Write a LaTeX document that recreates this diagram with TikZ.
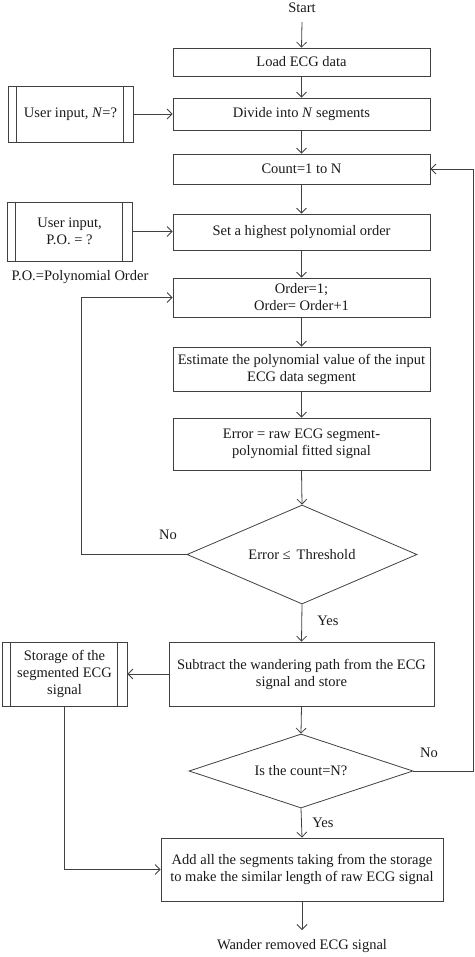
\documentclass[tikz,border=0pt]{standalone}
\usepackage{fontspec}
\setmainfont{Liberation Serif}
\usetikzlibrary{arrows.meta,shapes.geometric,calc}
\begin{document}
\begin{tikzpicture}[x=1pt,y=-1pt,
  line width=0.8pt,
  every node/.style={font=\fontsize{14.5}{17}\selectfont, text=black!90},
  proc/.style={draw=black!75, rectangle, minimum width=257pt, inner sep=2pt, align=center},
  ibox/.style={draw=black!75, rectangle, minimum width=125pt, inner sep=2pt, align=center},
  dec/.style={draw=black!75, diamond, inner sep=0pt, aspect=2.3},
  plain/.style={inner sep=1pt},
  arr/.style={draw=black!75, -{Straight Barb[length=5pt,width=10pt]}},
  ln/.style={draw=black!75}
]
\useasboundingbox (0,0) rectangle (474,957);

\node[plain] (start) at (302,8) {Start};
\node[proc, minimum height=28pt] (load) at (301.5,62) {Load ECG data};
\node[proc, minimum height=32pt] (divide) at (301.5,114) {Divide into \textit{N} segments};
\node[proc, minimum height=30pt] (count) at (301.5,169) {Count=1 to N};
\node[proc, minimum height=36pt] (set) at (301.5,232) {Set a highest polynomial order};
\node[proc, minimum height=39pt] (order) at (301.5,297.5) {Order=1;\\Order= Order+1};
\node[proc, minimum height=44pt] (est) at (301.5,369) {Estimate the polynomial value of the input\\ECG data segment};
\node[proc, minimum height=52pt] (err) at (301.5,444) {Error = raw ECG segment-\\polynomial fitted signal};
\node[dec, minimum width=230pt, minimum height=99pt] (d1) at (302,554.5) {Error ≤\, Threshold};
\node[proc, minimum width=265pt, minimum height=64pt] (sub) at (301.5,674) {Subtract the wandering path from the ECG\\signal and store};
\node[dec, minimum width=224pt, minimum height=74pt] (d2) at (301,771) {Is the count=N?};
\node[proc, minimum width=282pt, minimum height=63pt] (add) at (302,869.5) {Add all the segments taking from the storage\\to make the similar length of raw ECG signal};
\node[plain] (wander) at (302,946) {Wander removed ECG signal};

\node[ibox, minimum height=56pt] (userN) at (70.5,114) {User input, \textit{N}=?};
\node[ibox, minimum height=59pt] (userPO) at (69.5,231.5) {User input,\\P.O. = ?};
\node[plain] (note) at (80,277) {P.O.=Polynomial Order};
\node[ibox, minimum height=64pt] (stor) at (64.5,674) {Storage of the\\segmented ECG\\signal};

\foreach \b in {userN,userPO,stor}{
  \draw[ln] ([xshift=9pt]\b.north west) -- ([xshift=9pt]\b.south west);
  \draw[ln] ([xshift=-10pt]\b.north east) -- ([xshift=-10pt]\b.south east);
}

\coordinate (s0) at (302,22);
\draw[arr] (s0) -- (load.north);
\draw[arr] (load) -- (divide);
\draw[arr] (divide) -- (count);
\draw[arr] (count) -- (set);
\draw[arr] (set) -- (order);
\draw[arr] (order) -- (est);
\draw[arr] (est) -- (err);
\draw[arr] (err.south) -- (d1.north);
\draw[arr] (d1.south) -- (sub.north);
\draw[arr] (sub.south) -- (d2.north);
\draw[arr] (d2.south) -- (add.north);
\coordinate (w0) at (302,930);
\draw[arr] (add.south) -- (w0);

\draw[arr] (userN.east) -- (divide.west);
\draw[arr] (userPO.east) -- (userPO.east -| set.west);
\draw[arr] (sub.west) -- (stor.east);

\coordinate (nl) at (81,554.5);
\draw[arr] (d1.west) -- (nl) |- (order.west);
\coordinate (nr) at (473,771);
\draw[arr] (d2.east) -- (nr) |- (count.east);
\draw[arr] (stor.south) |- (add.west);

\node[plain] at (168,535) {No};
\node[plain] at (328,621) {Yes};
\node[plain] at (429,753) {No};
\node[plain] at (323,823) {Yes};
\end{tikzpicture}
\end{document}
